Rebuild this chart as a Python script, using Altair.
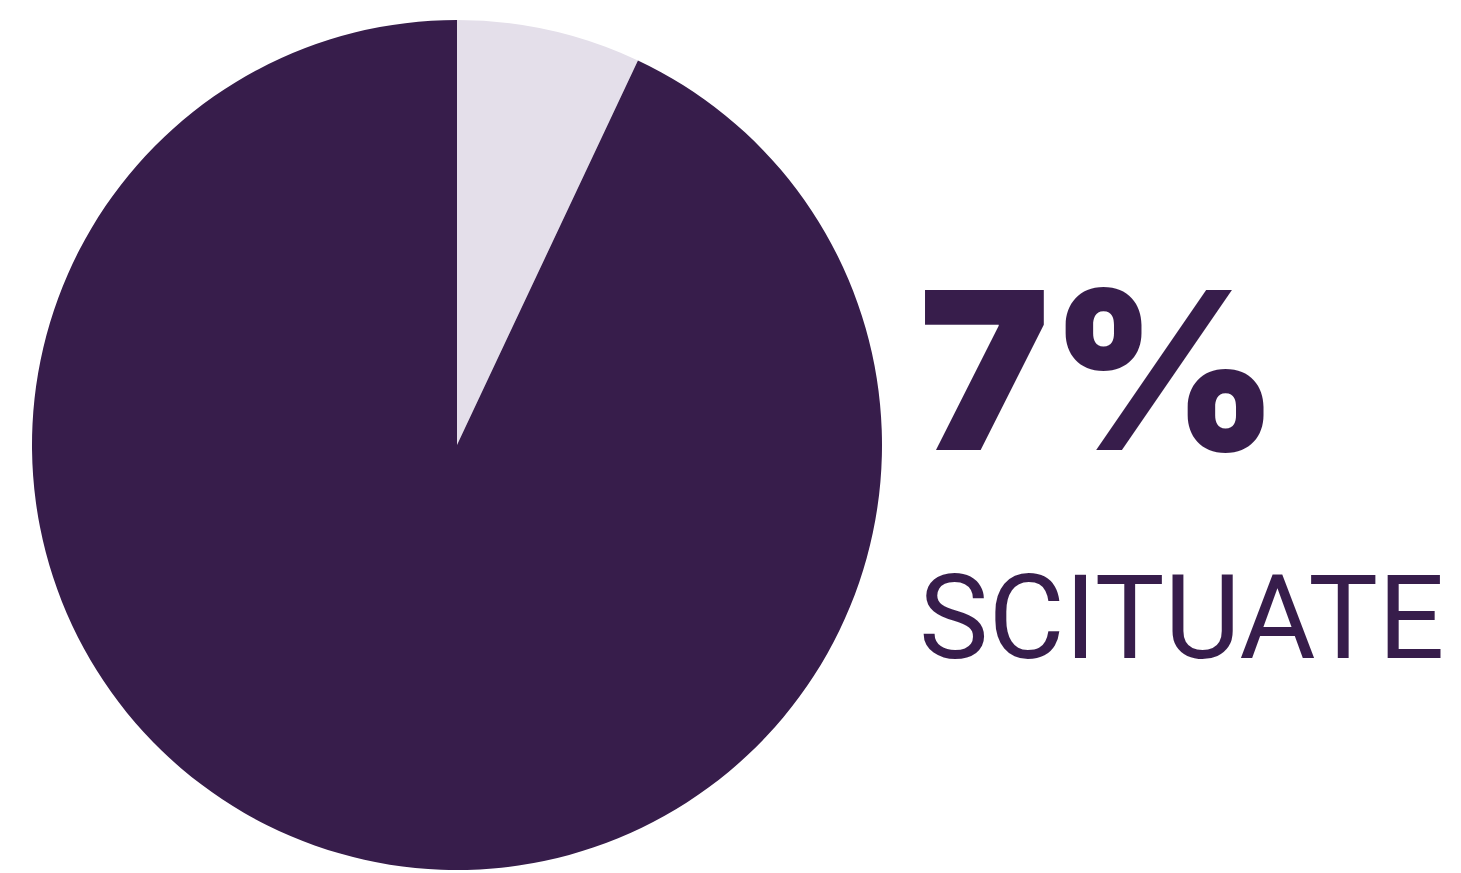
import altair as alt
import pandas as pd

categories = ["Scituate", "Other"]
shares = [7, 93]
colors = ["#e4dfea", "#371d4b"]
town = "SCITUATE"

df = pd.DataFrame({"cat": categories, "val": shares, "ord": [0, 1]})

pie = alt.Chart(df).mark_arc(radius=425, stroke=None).encode(
    theta=alt.Theta("val:Q", stack=True),
    order=alt.Order("ord:Q"),
    color=alt.Color("cat:N", scale=alt.Scale(domain=categories, range=colors), legend=None),
    x=alt.value(449),
    y=alt.value(437),
)

tdf = pd.DataFrame({"pct": [f"{shares[0]}%"], "name": [town]})

big = alt.Chart(tdf).mark_text(
    font="Inter", fontWeight=900, fontSize=220, align="left", baseline="alphabetic",
    color="#371d4b"
).encode(text="pct:N", x=alt.value(911), y=alt.value(442))

small = alt.Chart(tdf).mark_text(
    font="Roboto", fontWeight="normal", fontSize=117, align="left",
    baseline="alphabetic", color="#371d4b"
).encode(text="name:N", x=alt.value(911), y=alt.value(650))

chart = alt.layer(pie, big, small).properties(
    width=1445, height=865, padding=0, autosize=alt.AutoSizeParams(type="none")
).configure_view(stroke=None)

chart.save("out.html", embed_options={"renderer": "svg", "actions": False})
